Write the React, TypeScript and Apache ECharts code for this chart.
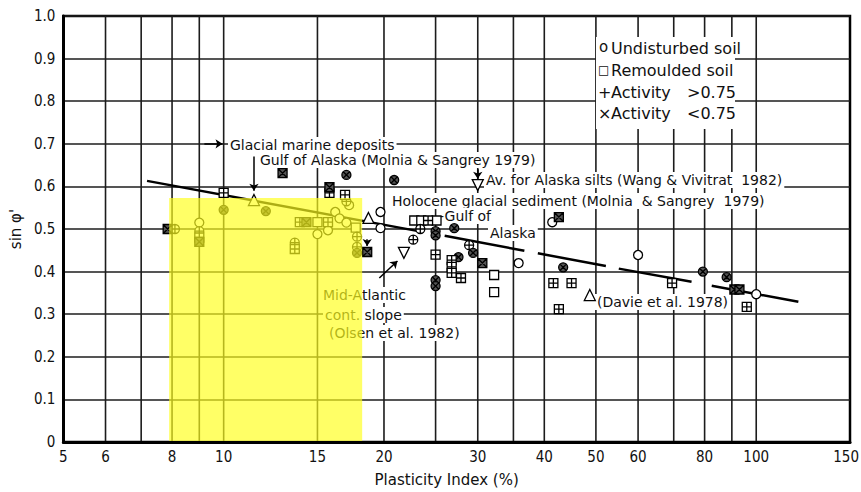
import React, { useEffect, useRef } from 'react';
import * as echarts from 'echarts';

// ---- axes ----
const X_MIN = 5;
const X_MAX = 150;
const X_GRID = [6, 7, 8, 9, 10, 15, 20, 25, 30, 35, 40, 50, 60, 70, 80, 90, 100];
const X_TICK_LABELS = [5, 6, 8, 10, 15, 20, 30, 40, 50, 60, 80, 100, 150];
const Y_MIN = 0;
const Y_MAX = 1;
const Y_STEP = 0.1;

// ---- data: [plasticity index, sin phi'] ----
const UNDISTURBED = [
  [9.0, 0.515], [15.0, 0.488], [15.7, 0.497], [16.2, 0.54], [16.5, 0.525], [17.2, 0.556],
  [17.0, 0.515], [19.7, 0.54], [19.7, 0.502], [35.8, 0.42], [41.4, 0.516], [60, 0.439], [100, 0.347],
];
const REMOULDED = [
  [15.0, 0.516], [17.7, 0.503], [22.8, 0.52], [23.5, 0.52], [25.1, 0.52], [32.2, 0.392], [32.2, 0.352],
];
const UNDISTURBED_ACT_HIGH = [
  [8.1, 0.5], [9.0, 0.495], [13.6, 0.468], [17.0, 0.565], [17.8, 0.482], [17.8, 0.458],
  [22.7, 0.475], [23.4, 0.5], [28.9, 0.462],
];
const UNDISTURBED_ACT_LOW = [
  [10, 0.545], [12.0, 0.542], [17.0, 0.627], [17.8, 0.444], [20.9, 0.615], [25, 0.495], [25, 0.485],
  [25, 0.38], [25, 0.366], [27.1, 0.502], [27.6, 0.434], [29.4, 0.444], [43.4, 0.41], [79.4, 0.4], [88, 0.387],
];
const REMOULDED_ACT_HIGH = [
  [9.0, 0.48], [10, 0.585], [13.6, 0.453], [13.9, 0.516], [15.7, 0.516], [15.8, 0.585], [16.9, 0.58],
  [24.2, 0.52], [25, 0.44], [26.8, 0.427], [26.8, 0.411], [26.8, 0.397], [27.9, 0.385], [41.6, 0.373],
  [42.6, 0.312], [45.0, 0.373], [69.5, 0.373], [96, 0.317],
];
const REMOULDED_ACT_LOW = [
  [7.85, 0.5], [9.0, 0.47], [12.9, 0.631], [14.3, 0.516], [15.8, 0.598], [18.6, 0.446],
  [30.6, 0.42], [42.6, 0.528], [91, 0.358], [93, 0.358],
];
const LITERATURE_UP = [[11.4, 0.568], [18.7, 0.526], [48.7, 0.345]];
const LITERATURE_DOWN = [[30, 0.603], [21.8, 0.444]];

const TREND_SEGMENTS = [
  [[7.18, 0.613], [23.2, 0.495]],
  [[26.0, 0.484], [36.7, 0.449]],
  [[38.9, 0.443], [52.2, 0.413]],
  [[55.2, 0.407], [75.6, 0.376]],
  [[82.5, 0.367], [120, 0.329]],
];

const ARROWS = [
  [[9.2, 0.7], [9.95, 0.7]],
  [[11.4, 0.67], [11.4, 0.59]],
  [[19.6, 0.385], [21.2, 0.425]],
  [[30, 0.64], [30, 0.618]],
  [[18.6, 0.476], [18.6, 0.46]],
];

// highlighted band [x0, y0, x1, y1]
const HIGHLIGHT = [[7.9, 0, 18.2, 0.573]];

const FONT = 'DejaVu Sans';
const FONT_C = '"DejaVu Sans Condensed", "DejaVu Sans"';

const CIRCLE_PLUS = 'path://M10,0A10,10 0 1,1 10,20A10,10 0 1,1 10,0ZM0,10L20,10M10,0L10,20';
const CIRCLE_CROSS = 'path://M10,0A10,10 0 1,1 10,20A10,10 0 1,1 10,0ZM2.93,2.93L17.07,17.07M17.07,2.93L2.93,17.07';
const SQUARE_PLUS = 'path://M0,0L20,0L20,20L0,20ZM0,10L20,10M10,0L10,20';
const SQUARE_CROSS = 'path://M0,0L20,0L20,20L0,20ZM0,0L20,20M20,0L0,20';

function scatter(name: string, data: number[][], symbol: string, size: number, fill: string, rotate = 0) {
  return {
    name,
    type: 'scatter',
    data,
    symbol,
    symbolSize: size,
    symbolRotate: rotate,
    z: 4,
    silent: true,
    itemStyle: { color: fill, borderColor: '#000', borderWidth: 1.3, opacity: 1 },
  };
}

export default function App() {
  const ref = useRef<HTMLDivElement>(null);
  useEffect(() => {
    if (!ref.current) return;
    const chart = echarts.init(ref.current, undefined, { renderer: 'svg' });
    const allX = Array.from(new Set([X_MIN, ...X_GRID, X_MAX]));

    const text = (t: string, x: number, y: number, size = 14, bg = true, extra: any = {}) => ({
      type: 'text',
      x,
      y,
      z: 3,
      silent: true,
      style: {
        text: t,
        fontSize: size,
        fontFamily: FONT,
        fill: '#111',
        verticalAlign: 'middle',
        backgroundColor: bg ? '#fff' : undefined,
        padding: bg ? [1, 2] : 0,
        ...extra,
      },
    });

    const option: any = {
      animation: false,
      grid: { left: 61, right: 11, top: 16, bottom: 50, show: true, borderColor: '#000', borderWidth: 2.5, backgroundColor: '#fff' },
      xAxis: {
        type: 'log',
        logBase: 10,
        min: X_MIN,
        max: X_MAX,
        z: 11,
        axisLine: { show: true, lineStyle: { color: '#000', width: 3 } },
        axisTick: { show: false },
        axisLabel: { show: false },
        splitLine: { show: false },
        name: 'Plasticity Index (%)',
        nameLocation: 'middle',
        nameGap: 30,
        nameTextStyle: { fontSize: 15, fontFamily: FONT, color: '#111', padding: [0, 20, 0, 0] },
      },
      yAxis: {
        type: 'value',
        min: Y_MIN,
        max: Y_MAX,
        interval: Y_STEP,
        axisLine: { show: true, lineStyle: { color: '#000', width: 3 } },
        axisTick: { show: false },
        axisLabel: {
          margin: 8,
          fontSize: 15,
          fontFamily: FONT_C,
          color: '#111',
          formatter: (v: number) => (v === 0 ? '0' : v.toFixed(1)),
        },
        splitLine: { lineStyle: { color: '#1c1c1c', width: 1.6 } },
        name: "sin φ'",
        nameLocation: 'middle',
        nameGap: 32,
        nameTextStyle: { fontSize: 15, fontFamily: FONT, color: '#111' },
      },
      graphic: [
        { type: 'rect', z: 2, silent: true, shape: { x: 596, y: 37, width: 139, height: 92 }, style: { fill: '#fff' } },
        text('o', 599, 47, 15, false),
        text('Undisturbed soil', 611, 48, 16, false),
        text('□', 598, 70, 12, false),
        text('Remoulded soil', 611, 70, 16, false),
        text('+', 598, 92, 16, false),
        text('Activity', 611, 92, 16, false),
        text('>0.75', 687, 92, 16, false),
        text('×', 598, 113, 16, false),
        text('Activity', 611, 113, 16, false),
        text('<0.75', 687, 113, 16, false),
        text('Glacial marine deposits', 228, 145),
        text('Gulf of Alaska (Molnia & Sangrey 1979)', 258, 160),
        text('Av. for Alaska silts (Wang & Vivitrat  1982)', 484, 180),
        text('Holocene glacial sediment (Molnia  & Sangrey  1979)', 390, 201),
        text('-Gulf of', 437, 216),
        text('Alaska', 488, 233),
        text('Mid-Atlantic', 321, 295),
        text('cont. slope', 323, 315),
        text('(Olsen et al. 1982)', 327, 333),
        text('(Davie et al. 1978)', 595, 302),
      ],
      series: [
        {
          type: 'custom',
          coordinateSystem: 'cartesian2d',
          z: 1,
          silent: true,
          clip: false,
          data: allX.map((v) => [v, Y_MIN]),
          renderItem: (_p: any, api: any) => {
            const v = api.value(0);
            const bot = api.coord([v, Y_MIN]);
            const top = api.coord([v, Y_MAX]);
            const children: any[] = [];
            if (X_GRID.includes(v)) {
              children.push({
                type: 'line',
                shape: { x1: bot[0], y1: bot[1], x2: top[0], y2: top[1] },
                style: { stroke: '#1c1c1c', lineWidth: 1.6 },
              });
            }
            if (X_TICK_LABELS.includes(v)) {
              const isLast = v === X_MAX;
              children.push({
                type: 'text',
                x: isLast ? bot[0] + 9 : bot[0],
                y: bot[1] + 15,
                style: {
                  text: String(v),
                  fontSize: 15,
                  fontFamily: FONT_C,
                  fill: '#111',
                  align: isLast ? 'right' : 'center',
                  verticalAlign: 'middle',
                },
              });
            }
            return { type: 'group', children };
          },
        },
        ...TREND_SEGMENTS.map((seg) => ({
          type: 'line',
          data: seg,
          symbol: 'none',
          z: 4,
          silent: true,
          lineStyle: { color: '#000', width: 2.5 },
        })),
        scatter('Undisturbed soil', UNDISTURBED, 'circle', 9, '#fff'),
        scatter('Remoulded soil', REMOULDED, 'rect', 9, '#fff'),
        scatter('Undisturbed, activity >0.75', UNDISTURBED_ACT_HIGH, CIRCLE_PLUS, 9, '#fff'),
        scatter('Undisturbed, activity <0.75', UNDISTURBED_ACT_LOW, CIRCLE_CROSS, 9, '#555'),
        scatter('Remoulded, activity >0.75', REMOULDED_ACT_HIGH, SQUARE_PLUS, 9, '#fff'),
        scatter('Remoulded, activity <0.75', REMOULDED_ACT_LOW, SQUARE_CROSS, 9, '#555'),
        scatter('Literature', LITERATURE_UP, 'triangle', 11, '#fff'),
        scatter('Literature (average)', LITERATURE_DOWN, 'triangle', 11, '#fff', 180),
        {
          type: 'scatter',
          data: [],
          silent: true,
          markLine: {
            silent: true,
            symbol: ['none', 'arrow'],
            symbolSize: 7,
            label: { show: false },
            lineStyle: { color: '#000', width: 1.5, type: 'solid' },
            data: ARROWS.map(([a, b]) => [{ coord: a }, { coord: b }]),
          },
        },
        {
          type: 'custom',
          coordinateSystem: 'cartesian2d',
          z: 10,
          silent: true,
          encode: { x: [0, 2], y: [1, 3] },
          data: HIGHLIGHT,
          renderItem: (_p: any, api: any) => {
            const p0 = api.coord([api.value(0), api.value(1)]);
            const p1 = api.coord([api.value(2), api.value(3)]);
            return {
              type: 'rect',
              shape: { x: p0[0], y: p1[1], width: p1[0] - p0[0], height: p0[1] - p1[1] },
              style: { fill: 'rgba(255,255,30,0.68)' },
            };
          },
        },
      ],
    };
    chart.setOption(option);
    return () => chart.dispose();
  }, []);
  return <div ref={ref} style={{ position: 'fixed', left: 0, top: 0, width: 861, height: 492, background: '#fff' }} />;
}
